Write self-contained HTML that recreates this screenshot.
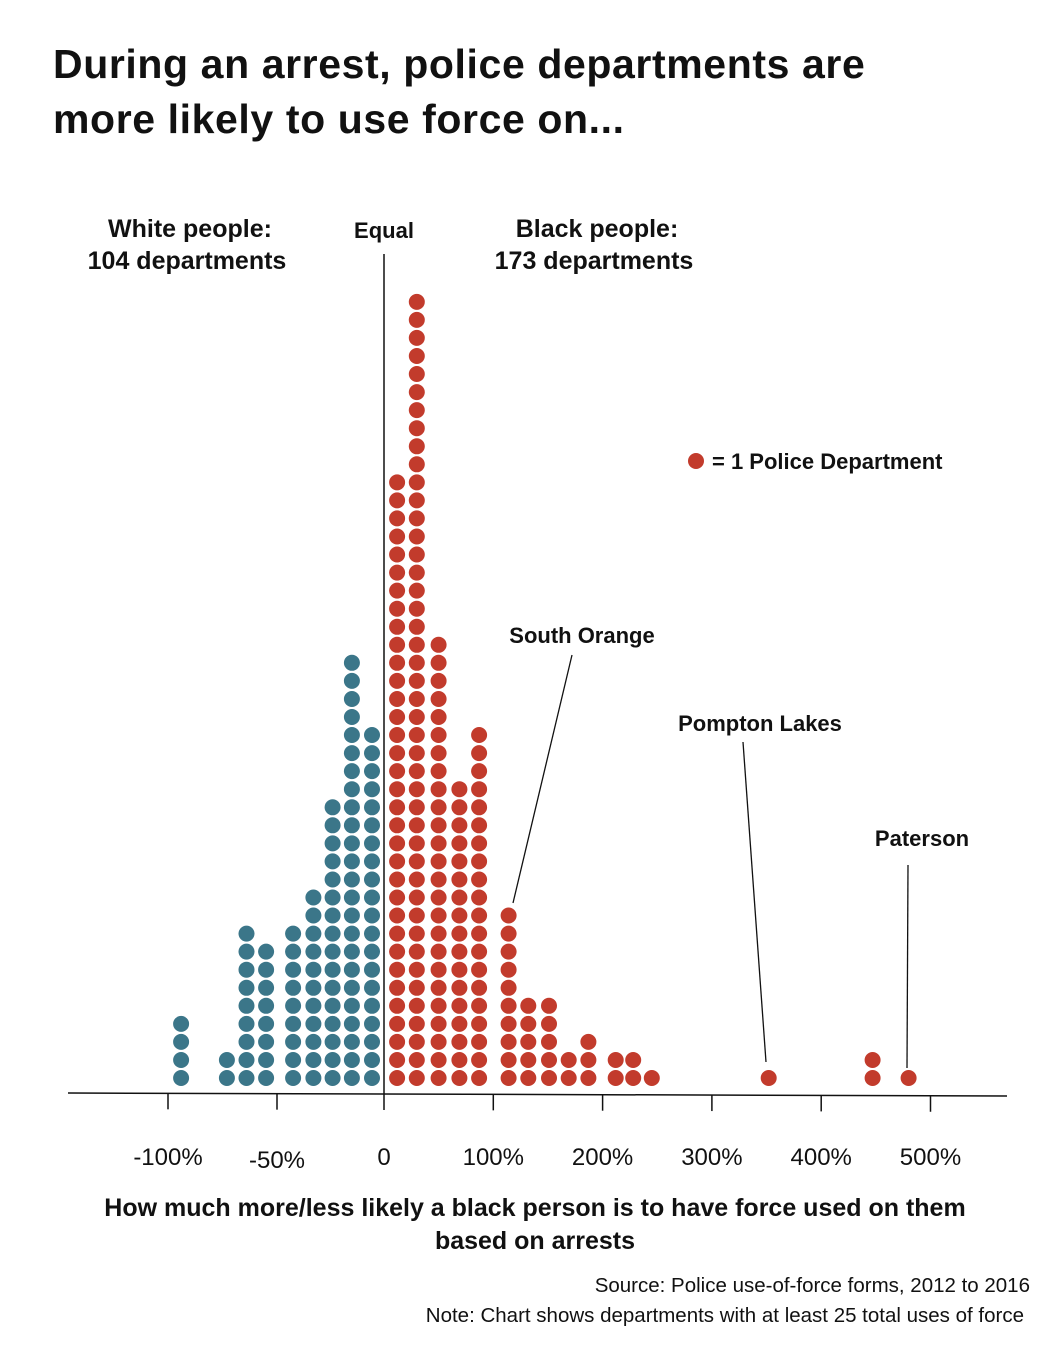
<!DOCTYPE html>
<html><head><meta charset="utf-8">
<style>
html,body{margin:0;padding:0;background:#fff;}
svg{display:block;font-family:"Liberation Sans",sans-serif;}
</style></head>
<body>
<svg id="chart" width="1053" height="1350" viewBox="0 0 1053 1350">
<text x="53" y="78" font-size="41" font-weight="bold" fill="#111" letter-spacing="0.6">During an arrest, police departments are</text>
<text x="53" y="133" font-size="41" font-weight="bold" fill="#111" letter-spacing="0.6">more likely to use force on...</text>
<text x="190" y="237" font-size="25" font-weight="bold" text-anchor="middle" fill="#111">White people:</text>
<text x="187" y="269" font-size="25" font-weight="bold" text-anchor="middle" fill="#111">104 departments</text>
<text x="597" y="237" font-size="25" font-weight="bold" text-anchor="middle" fill="#111">Black people:</text>
<text x="594" y="269" font-size="25" font-weight="bold" text-anchor="middle" fill="#111">173 departments</text>
<text x="384" y="238" font-size="22" font-weight="bold" text-anchor="middle" fill="#111">Equal</text>
<line x1="384" y1="254" x2="384" y2="1094" stroke="#111" stroke-width="1.5"/>
<circle cx="696" cy="461" r="8" fill="#c23b2c"/>
<text x="712" y="469" font-size="22" font-weight="bold" fill="#111">= 1 Police Department</text>
<g id="dots"></g>
<line x1="68" y1="1093" x2="1007" y2="1096" stroke="#111" stroke-width="1.5"/>
<g id="ticks"></g>
<text x="582" y="643" font-size="22" font-weight="bold" text-anchor="middle" fill="#111">South Orange</text>
<line x1="572" y1="655" x2="513" y2="903" stroke="#111" stroke-width="1.3"/>
<text x="760" y="731" font-size="22" font-weight="bold" text-anchor="middle" fill="#111">Pompton Lakes</text>
<line x1="743" y1="742" x2="766" y2="1062" stroke="#111" stroke-width="1.3"/>
<text x="922" y="846" font-size="22" font-weight="bold" text-anchor="middle" fill="#111">Paterson</text>
<line x1="908" y1="865" x2="907" y2="1068" stroke="#111" stroke-width="1.3"/>
<text x="535" y="1216" font-size="25" font-weight="bold" text-anchor="middle" fill="#111">How much more/less likely a black person is to have force used on them</text>
<text x="535" y="1249" font-size="25" font-weight="bold" text-anchor="middle" fill="#111">based on arrests</text>
<text x="1030" y="1292" font-size="20.5" text-anchor="end" fill="#111">Source: Police use-of-force forms, 2012 to 2016</text>
<text x="1024" y="1322" font-size="20.5" text-anchor="end" fill="#111">Note: Chart shows departments with at least 25 total uses of force</text>
</svg>
<script>
const blueBins = [-94, -73, -64, -55, -42.5, -33, -24, -15, -5.6];
const blueCounts = [4, 2, 9, 8, 9, 11, 16, 24, 20];
const redBins = [12, 30, 50, 69, 87, 114, 132, 151, 169, 187, 212, 228, 245, 352, 447, 480];
const redCounts = [34, 44, 25, 17, 20, 10, 5, 5, 2, 3, 2, 2, 1, 1, 2, 1];
const tickValues = [-100, -50, 0, 100, 200, 300, 400, 500];
const tickLabels = ["-100%", "-50%", "0", "100%", "200%", "300%", "400%", "500%"];

const NS = "http://www.w3.org/2000/svg";
function xScale(v){
  if (v >= 0) return 384 + v * 1.093;
  if (v >= -50) return 384 + v * 2.14;
  return 277 + (v + 50) * 2.18;
}
function yScale(i){ return 1078 - i * 18.05; }
const dots = document.getElementById('dots');
function drawSeries(bins, counts, color, name){
  bins.forEach((b, k) => {
    for (let i = 0; i < counts[k]; i++){
      const c = document.createElementNS(NS, 'circle');
      c.setAttribute('cx', xScale(b).toFixed(1));
      c.setAttribute('cy', yScale(i).toFixed(1));
      c.setAttribute('r', 8);
      c.setAttribute('fill', color);
      
      
      dots.appendChild(c);
    }
  });
}
drawSeries(blueBins, blueCounts, '#3b7689', 'white-favored-department-dot');
drawSeries(redBins, redCounts, '#c23b2c', 'black-favored-department-dot');
const ticks = document.getElementById('ticks');
tickValues.forEach((v, k) => {
  const x = xScale(v);
  const yb = 1093 + (x - 68) / 939 * 3;
  const l = document.createElementNS(NS, 'line');
  l.setAttribute('x1', x); l.setAttribute('x2', x);
  l.setAttribute('y1', yb); l.setAttribute('y2', yb + 16);
  l.setAttribute('stroke', '#111'); l.setAttribute('stroke-width', 1.5);
  
  
  ticks.appendChild(l);
  const t = document.createElementNS(NS, 'text');
  t.setAttribute('x', x); t.setAttribute('y', v === -50 ? 1168 : 1165);
  t.setAttribute('text-anchor', 'middle');
  t.setAttribute('font-size', 24);
  t.setAttribute('fill', '#111');
  t.textContent = tickLabels[k];
  
  
  ticks.appendChild(t);
});
</script>
</body></html>
